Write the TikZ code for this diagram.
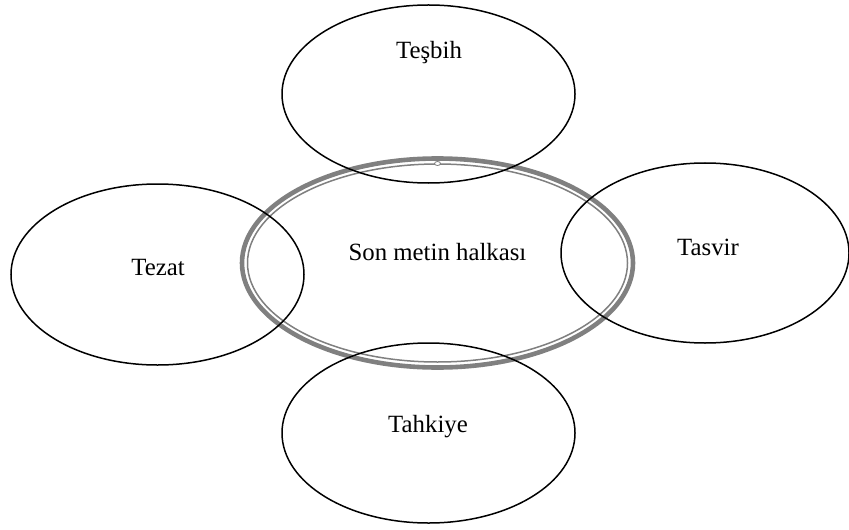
\documentclass[tikz,border=0pt]{standalone}
\usepackage{fontspec}
\setmainfont{Liberation Serif}
\begin{document}
\begin{tikzpicture}[x=0.5pt,y=-0.5pt,
  petal/.style={draw=black,line width=0.75pt},
  ringthick/.style={draw=black!50,line width=2.3pt},
  ringthin/.style={draw=black!50,line width=0.75pt},
  lbl/.style={font=\fontsize{12.4}{15}\selectfont,inner sep=0pt}]
\useasboundingbox (0,0) rectangle (849,529);
% central ring
\draw[ringthick] (437.5,263) ellipse [x radius=195.5, y radius=104.5];
\draw[ringthin] (437.5,263) ellipse [x radius=190, y radius=99];
\draw[ringthin,fill=white,line width=0.4pt] (437.5,163.5) ellipse [x radius=3, y radius=2];
% petals
\draw[petal] (428.5,94) ellipse [x radius=146.5, y radius=89];
\draw[petal] (157.5,274.5) ellipse [x radius=146.5, y radius=90.5];
\draw[petal] (705,253) ellipse [x radius=144, y radius=90];
\draw[petal] (428.5,433) ellipse [x radius=146.5, y radius=90];
% labels
\node[lbl] (center) at (437.5,252) {Son metin halkası};
\node[lbl] (tesbih) at (429,53) {Teşbih};
\node[lbl] (tezat) at (158,268) {Tezat};
\node[lbl] (tasvir) at (708,247) {Tasvir};
\node[lbl] (tahkiye) at (428,427) {Tahkiye};
\end{tikzpicture}
\end{document}
